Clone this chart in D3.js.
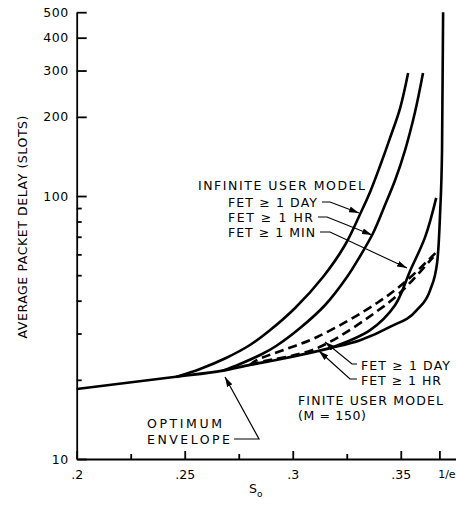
<!DOCTYPE html>
<html><head><meta charset="utf-8">
<script src="https://cdn.jsdelivr.net/npm/d3@7"></script>
<style>
body{margin:0;background:#fff}
text{font-family:"DejaVu Sans",sans-serif;fill:#000}
</style>
</head><body><svg id="c" width="456" height="507"></svg>
<script>
// ---- data ----
const xTickValues=[0.2,0.25,0.3,0.35,1/Math.E];
const xTickLabels=[".2",".25",".3",".35","1/e"];
const xMinorTicks=[0.225,0.275,0.325];
const yTickValues=[10,100,200,300,400,500];
const yTickLabels=["10","100","200","300","400","500"];
const yMinorTicks=[20,30,40,50,60,70,80,90];

const envelopeS=[0.2,0.246,0.2676,0.2802,0.2923,0.3173,0.3312,0.345,0.3575,0.3636,0.3668,0.3682,0.3691,0.3696];
const envelopeD=[18.45,20.56,21.68,22.8,23.8,26.4,28.3,31.8,36.9,43.9,55.6,86.1,149.6,500];

const infDayS=[0.246,0.2571,0.2691,0.2802,0.289,0.3011,0.314,0.3242,0.3312,0.3358,0.3404,0.345,0.3497,0.3534];
const infDayD=[20.5,21.99,24.21,27.13,30.66,37.51,49.21,65.13,85.43,103.6,130.1,166,216,293.6];

const infHrS=[0.2673,0.2756,0.2858,0.2923,0.3034,0.315,0.3251,0.3312,0.3372,0.3427,0.3474,0.352,0.3566,0.3603];
const infHrD=[21.61,22.97,25.07,26.9,31.48,38.51,49.21,59.14,72.33,92.43,115,149.6,208.7,293.6];

const infMinS=[0.3173,0.3358,0.3474,0.3543,0.3613,0.3664];
const infMinD=[26.4,30.9,38.5,51.9,69.9,98.4];

const finDayS=[0.2802,0.2835,0.3113,0.339,0.353,0.366];
const finDayD=[22.8,23.8,29.1,39.2,47.9,60.7];

const finHrS=[0.2802,0.2849,0.3113,0.3418,0.351,0.365];
const finHrD=[22.8,23.37,26.4,37.9,43.9,58.6];

// ---- layout ----
const svg=d3.select("#c");
const x=d3.scaleLinear().domain([0.2,0.3757]).range([76.7,456.3]);
const y=d3.scaleLog().domain([10,500]).range([459,12.2]);

const axisW=1.8;
// y axis
const gy=svg.append("g").attr("transform","translate(76.7,0)")
  .call(d3.axisLeft(y).tickValues(yTickValues).tickFormat((d,i)=>yTickLabels[i]).tickSize(-10).tickSizeOuter(0).tickPadding(8));
gy.selectAll("text").style("font-size","12.5px").attr("font-family","DejaVu Sans").attr("fill","#000").attr("letter-spacing","0.5");
const gym=svg.append("g").attr("transform","translate(76.7,0)")
  .call(d3.axisLeft(y).tickValues(yMinorTicks).tickFormat("").tickSize(-5).tickSizeOuter(0));
gym.select(".domain").remove();
// x axis
const gx=svg.append("g").attr("transform","translate(0,459)")
  .call(d3.axisBottom(x).tickValues(xTickValues).tickFormat((d,i)=>xTickLabels[i]).tickSize(-8).tickSizeOuter(0).tickPadding(11));
gx.selectAll("text").style("font-size","12.5px").attr("font-family","DejaVu Sans").attr("fill","#000");
gx.selectAll(".tick").filter((d,i)=>i===4).select("text").attr("text-anchor","middle").attr("dx","7")
  .style("font-size","11px");
const gxm=svg.append("g").attr("transform","translate(0,459)")
  .call(d3.axisBottom(x).tickValues(xMinorTicks).tickFormat("").tickSize(-5).tickSizeOuter(0));
gxm.select(".domain").remove();
svg.selectAll(".domain,.tick line").attr("stroke","#000").attr("stroke-width",axisW);

// curves
const lineEnv=d3.line().x(d=>x(d[0])).y(d=>y(d[1])).curve(d3.curveMonotoneX);
const lineBr=d3.line().x(d=>x(d[0])).y(d=>y(d[1])).curve(d3.curveCatmullRom.alpha(0.5));
const zip=(a,b)=>a.map((v,i)=>[v,b[i]]);
const curves=[
  {s:envelopeS,d:envelopeD,dash:null,g:lineEnv},
  {s:infDayS,d:infDayD,dash:null,g:lineBr},
  {s:infHrS,d:infHrD,dash:null,g:lineBr},
  {s:infMinS,d:infMinD,dash:null,g:lineBr},
  {s:finDayS,d:finDayD,dash:"9,5",g:lineBr},
  {s:finHrS,d:finHrD,dash:"9,5",g:lineBr}
];
svg.append("g").selectAll("path").data(curves).join("path")
  .attr("d",c=>c.g(zip(c.s,c.d)))
  .attr("fill","none").attr("stroke","#000").attr("stroke-width",2.6)
  .attr("stroke-dasharray",c=>c.dash);

// arrow marker
svg.append("defs").append("marker").attr("id","ah").attr("viewBox","0 0 10 6")
  .attr("refX",10).attr("refY",3).attr("markerWidth",10).attr("markerHeight",6)
  .attr("markerUnits","userSpaceOnUse").attr("orient","auto")
  .append("path").attr("d","M0,0 L10,3 L0,6 Z").attr("fill","#000");

const leaders=[
  [[322,202],[330,202],[359,213]],
  [[318,217],[327,217],[372,235]],
  [[320,232],[330,232],[407,268]],
  [[357,364],[352,364],[325,342]],
  [[357,379],[350,379],[319,351]],
  [[234,439],[259,439],[225,377]]
];
svg.append("g").selectAll("path").data(leaders).join("path")
  .attr("d",d=>d3.line()(d)).attr("fill","none").attr("stroke","#000").attr("stroke-width",1.2)
  .attr("marker-end","url(#ah)");

// labels
const labels=[
  {t:"INFINITE USER MODEL",x:198,y:190,w:167},
  {t:"FET \u2265 1 DAY",x:228,y:207,w:89},
  {t:"FET \u2265 1 HR",x:228,y:222,w:85},
  {t:"FET \u2265 1 MIN",x:228,y:237,w:87},
  {t:"FET \u2265 1 DAY",x:361,y:370,w:89},
  {t:"FET \u2265 1 HR",x:361,y:385,w:80},
  {t:"FINITE USER MODEL",x:298,y:405,w:145},
  {t:"(M = 150)",x:298,y:420,w:68},
  {t:"OPTIMUM",x:147,y:428,w:75},
  {t:"ENVELOPE",x:147,y:444,w:83}
];
svg.append("g").selectAll("text").data(labels).join("text")
  .attr("x",d=>d.x).attr("y",d=>d.y).attr("textLength",d=>d.w).attr("lengthAdjust","spacing")
  .style("font-size","12.5px").text(d=>d.t);

svg.append("text").attr("transform","translate(27,227) rotate(-90)").attr("text-anchor","middle")
  .attr("textLength",223).attr("lengthAdjust","spacing").style("font-size","12.5px")
  .text("AVERAGE PACKET DELAY (SLOTS)");
const xl=svg.append("text").attr("x",249).attr("y",493).style("font-size","12.5px");
xl.append("tspan").text("S");
xl.append("tspan").attr("dy",4).style("font-size","9px").text("o");
</script></body></html>
